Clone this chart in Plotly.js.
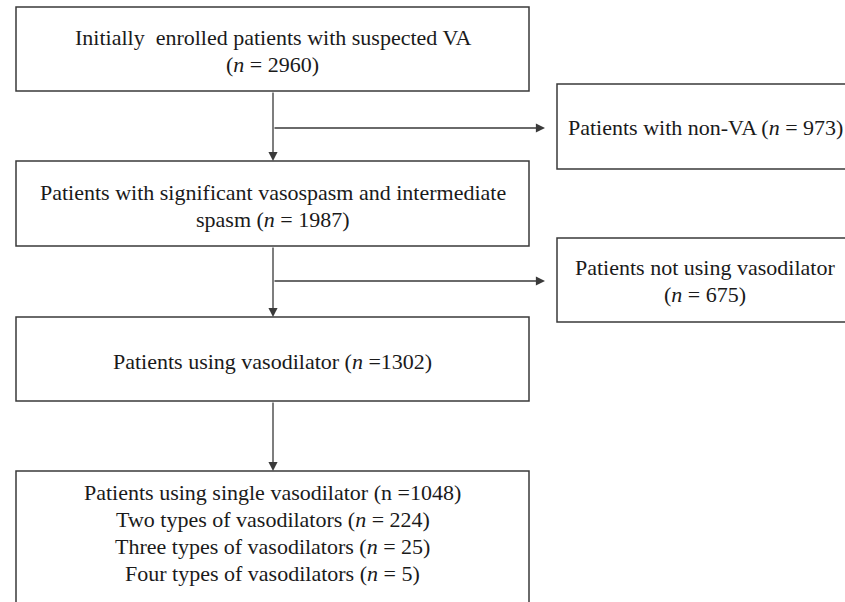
<!DOCTYPE html>
<html>
<head>
<meta charset="utf-8">
<script src="https://cdn.plot.ly/plotly-3.0.1.min.js"></script>
<style>html,body{margin:0;padding:0;background:#fff;}#chart{width:845px;height:602px;}</style>
</head>
<body>
<div id="chart"></div>
<script>
// ---- Flowchart content ----
const stepLabels = [
  "Initially  enrolled patients with suspected VA<br>(<i>n</i> = {n})",
  "Patients with significant vasospasm and intermediate<br>spasm (<i>n</i> = {n})",
  "Patients using vasodilator (<i>n</i> ={n})"
];
const stepCounts = [2960, 1987, 1302];

const excludedLabels = [
  "Patients with non-VA (<i>n</i> = {n})",
  "Patients not using vasodilator<br>(<i>n</i> = {n})"
];
const excludedCounts = [973, 675];

const breakdownLabels = [
  "Patients using single vasodilator (n ={n})",
  "Two types of vasodilators (<i>n</i> = {n})",
  "Three types of vasodilators (<i>n</i> = {n})",
  "Four types of vasodilators (<i>n</i> = {n})"
];
const breakdownCounts = [1048, 224, 25, 5];

// ---- Layout geometry (pixel-like coordinates on a 845x602 canvas) ----
const mainBox = {x0: 16, x1: 529};
const mainRows = [[7, 91], [161, 246], [317, 401]];
const finalRow = [471, 620];
const sideBox = {x0: 557, x1: 855};
const sideRows = [[84, 169], [238, 322]];
const spineX = 273;
const branchY = [128, 281];
const branchTipX = 545;

const lineColor = "#3a3a3a";
const textColor = "#1a1a1a";
const fontFam = "Liberation Serif";
const fontSize = 22;
const lineGap = 27;

const fill = (tpl, n) => tpl.replace("{n}", n);

const shapes = [];
const annotations = [];

function addBox(x0, x1, y0, y1) {
  shapes.push({type: "rect", xref: "x", yref: "y", x0, x1, y0, y1,
    line: {color: lineColor, width: 1.5}, fillcolor: "rgba(0,0,0,0)", layer: "above"});
}
// place each line separately so the line spacing matches the reference
function addText(x, yc, text) {
  const lines = text.split("<br>");
  const top = yc - (lines.length - 1) * lineGap / 2;
  lines.forEach((ln, k) => {
    annotations.push({xref: "x", yref: "y", x, y: top + k * lineGap, text: ln, showarrow: false,
      xanchor: "center", yanchor: "middle", align: "center",
      font: {family: fontFam, size: fontSize, color: textColor}});
  });
}
function addArrow(ax, ay, x, y) {
  annotations.push({xref: "x", yref: "y", axref: "x", ayref: "y", x, y, ax, ay,
    text: "", showarrow: true, arrowhead: 2, arrowsize: 1.4, arrowwidth: 1.3,
    arrowcolor: lineColor, standoff: 0, startstandoff: 0});
}

const mainCx = (mainBox.x0 + mainBox.x1) / 2;
const sideCx = (sideBox.x0 + sideBox.x1) / 2 - 1;

stepLabels.forEach((lab, i) => {
  const [y0, y1] = mainRows[i];
  addBox(mainBox.x0, mainBox.x1, y0, y1);
  addText(mainCx, (y0 + y1) / 2 + 2, fill(lab, stepCounts[i]));
});

excludedLabels.forEach((lab, i) => {
  const [y0, y1] = sideRows[i];
  addBox(sideBox.x0, sideBox.x1, y0, y1);
  addText(sideCx, (y0 + y1) / 2 + 1, fill(lab, excludedCounts[i]));
});

addBox(mainBox.x0, mainBox.x1, finalRow[0], finalRow[1]);
addText(mainCx, 533, breakdownLabels.map((l, i) => fill(l, breakdownCounts[i])).join("<br>"));

// vertical arrows between main boxes
for (let i = 0; i < mainRows.length; i++) {
  const yStart = mainRows[i][1];
  const yEnd = i + 1 < mainRows.length ? mainRows[i + 1][0] : finalRow[0];
  addArrow(spineX, yStart, spineX, yEnd);
}
// side branch arrows
branchY.forEach(y => addArrow(spineX, y, branchTipX, y));

const layout = {
  width: 845, height: 602,
  margin: {l: 0, r: 0, t: 0, b: 0},
  paper_bgcolor: "#ffffff", plot_bgcolor: "#ffffff",
  showlegend: false,
  xaxis: {range: [0, 845], visible: false, fixedrange: true},
  yaxis: {range: [602, 0], visible: false, fixedrange: true},
  shapes, annotations
};

Plotly.newPlot("chart", [{x: [], y: [], type: "scatter", hoverinfo: "skip"}], layout,
  {displayModeBar: false, staticPlot: true});
</script>
</body>
</html>
